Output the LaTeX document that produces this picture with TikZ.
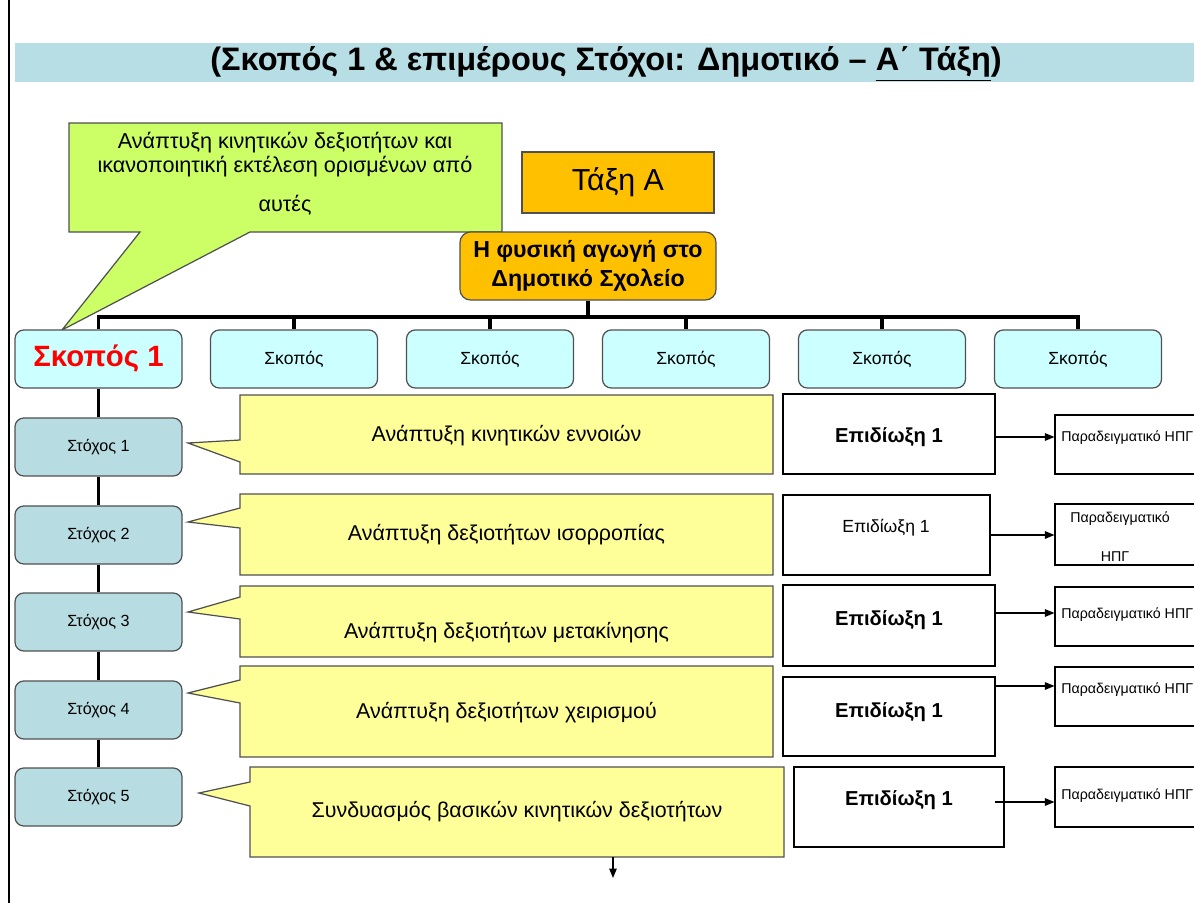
\documentclass[tikz,border=0pt]{standalone}
\usepackage{fontspec}
\setmainfont{Liberation Sans}
\usetikzlibrary{arrows.meta}
\definecolor{titlebg}{RGB}{183,222,228}
\definecolor{lime}{RGB}{204,255,102}
\definecolor{gold}{RGB}{255,192,0}
\definecolor{skopos}{RGB}{204,255,255}
\definecolor{stoxos}{RGB}{183,221,227}
\definecolor{yel}{RGB}{255,255,153}
\definecolor{edge}{RGB}{80,80,80}
\begin{document}
\begin{tikzpicture}[x=0.02cm,y=-0.02cm,
  sz/.style 2 args={minimum width=#1*0.02cm,minimum height=#2*0.02cm,inner sep=0pt},
  goldbox/.style={draw=edge,fill=gold,line width=0.7pt},
  skbox/.style={draw=edge,fill=skopos,rounded corners=5pt,line width=0.7pt,font=\fontsize{10}{12}\selectfont},
  stbox/.style={draw=edge,fill=stoxos,rounded corners=5pt,line width=0.7pt,font=\fontsize{9.2}{11}\selectfont},
  ycall/.style={draw=edge,fill=yel,line width=0.7pt},
  ytext/.style={font=\fontsize{12.2}{14}\selectfont},
  epbox/.style={draw=black,fill=white,line width=0.7pt},
  eptext/.style={font=\bfseries\fontsize{11.5}{14}\selectfont},
  rbox/.style={draw=black,fill=white,line width=0.6pt},
  rtext/.style={font=\fontsize{8.1}{10}\selectfont,inner sep=0pt},
  bus/.style={line width=2.2pt,black},
  arr/.style={line width=0.7pt,-{Triangle[length=0.19cm,width=0.15cm]}}
]
\useasboundingbox (0,0) rectangle (1194,903);
% left rule
\draw[line width=0.9pt] (9,0) -- (9,903);
% title bar
\node[sz={1181}{39},fill=titlebg] (title) at (605.5,62.5) {};
\node[inner sep=0pt,font=\bfseries\fontsize{18.5}{22}\selectfont] (titlet) at (606,64)
  {(Σκοπός 1 \& επιμέρους Στόχοι: Δημοτικό – \underline{Α΄ Τάξη})};
% green callout
\path[draw=edge,fill=lime,line width=0.7pt] (69,123) -- (502,123) -- (502,232) -- (250,232) -- (62,330) -- (140,232) -- (69,232) -- cycle;
\node[align=center,font=\fontsize{12.3}{13.4}\selectfont] (goal) at (285,174)
  {Ανάπτυξη κινητικών δεξιοτήτων και\\ικανοποιητική εκτέλεση ορισμένων από\\[9pt]αυτές};
% Taxi A
\node[goldbox,sz={192}{61},font=\fontsize{17.3}{20}\selectfont] (taxi) at (618,182.5) {Τάξη Α};
\node[goldbox,sz={256}{68},rounded corners=6pt,align=center,font=\bfseries\fontsize{13.2}{16.5}\selectfont] (phys) at (588,266)
  {Η φυσική αγωγή στο\\Δημοτικό Σχολείο};
% skopos boxes
\node[skbox,sz={167}{58},text=red,font=\bfseries\fontsize{16.7}{19}\selectfont] (S1) at (98.5,359) {Σκοπός 1};
\foreach \i/\xx in {2/294,3/490,4/686,5/882,6/1078}{
  \node[skbox,sz={167}{58}] (S\i) at (\xx,359) {Σκοπός};
}
% bus
\coordinate (busy) at (0,317);
\draw[bus] (phys.south) -- (phys.south |- busy);
\draw[bus,line cap=rect] (S1.north |- busy) -- (S6.north |- busy);
\foreach \i in {1,...,6}{\draw[bus] (S\i.north |- busy) -- (S\i.north);}
% stoxos boxes
\foreach \i/\yy in {1/447,2/535,3/622,4/710,5/797}{
  \node[stbox,sz={167}{58}] (T\i) at (98.5,\yy) {Στόχος \i};
}
\draw[bus] (S1.south) -- (T1.north);
\draw[bus] (T1.south) -- (T2.north);
\draw[bus] (T2.south) -- (T3.north);
\draw[bus] (T3.south) -- (T4.north);
\draw[bus] (T4.south) -- (T5.north);
% yellow callouts
\path[ycall] (240,395) -- (773,395) -- (773,474) -- (240,474) -- (240,462) -- (188,443) -- (240,440) -- cycle;
\node[ytext] (Y1) at (506.5,436) {Ανάπτυξη κινητικών εννοιών};
\path[ycall] (240,494) -- (773,494) -- (773,575) -- (240,575) -- (240,528) -- (188,522) -- (240,508) -- cycle;
\node[ytext] (Y2) at (506.5,535) {Ανάπτυξη δεξιοτήτων ισορροπίας};
\path[ycall] (240,586) -- (773,586) -- (773,657) -- (240,657) -- (240,619) -- (188,612) -- (240,597) -- cycle;
\node[ytext] (Y3) at (506.5,633) {Ανάπτυξη δεξιοτήτων μετακίνησης};
\path[ycall] (240,666) -- (773,666) -- (773,757) -- (240,757) -- (240,703) -- (188,693) -- (240,680) -- cycle;
\node[ytext] (Y4) at (506.5,713) {Ανάπτυξη δεξιοτήτων χειρισμού};
\path[ycall] (250,767) -- (784,767) -- (784,857) -- (250,857) -- (250,806) -- (199,793) -- (250,782) -- cycle;
\node[ytext] (Y5) at (517,812) {Συνδυασμός βασικών κινητικών δεξιοτήτων};
\coordinate (Y5b) at (613,857);
\draw[arr] (Y5b) -- ++(0,21);
% epidioksi boxes
\node[epbox,sz={212}{80}] (E1) at (889,434) {};
\node[eptext] (E1t) at (889,437) {Επιδίωξη 1};
\node[epbox,sz={207}{80}] (E2) at (886.5,535) {};
\node[font=\fontsize{10}{12}\selectfont] (E2t) at (886,528) {Επιδίωξη 1};
\node[epbox,sz={212}{81}] (E3) at (889,625.5) {};
\node[eptext] (E3t) at (889,620) {Επιδίωξη 1};
\node[epbox,sz={212}{79}] (E4) at (889,716.5) {};
\node[eptext] (E4t) at (889,712) {Επιδίωξη 1};
\node[epbox,sz={210}{80}] (E5) at (899,807) {};
\node[eptext] (E5t) at (899,800) {Επιδίωξη 1};
% right boxes
\node[rbox,sz={150}{59}] (R1) at (1130,444.5) {};
\node[rtext,anchor=west] (R1t) at (1061,438) {Παραδειγματικό ΗΠΓ};
\node[rbox,sz={150}{61}] (R2) at (1130,534.5) {};
\node[rtext,anchor=west] (R2t) at (1070,519) {Παραδειγματικό};
\node[rtext] (R2u) at (1115,557) {ΗΠΓ};
\node[rbox,sz={150}{59}] (R3) at (1130,616.5) {};
\node[rtext,anchor=west] (R3t) at (1061,615) {Παραδειγματικό ΗΠΓ};
\node[rbox,sz={150}{59}] (R4) at (1130,696.5) {};
\node[rtext,anchor=west] (R4t) at (1061,690) {Παραδειγματικό ΗΠΓ};
\node[rbox,sz={150}{60}] (R5) at (1130,797) {};
\node[rtext,anchor=west] (R5t) at (1061,796) {Παραδειγματικό ΗΠΓ};
% arrows
\draw[arr] ([yshift=-0.06cm]E1.east) coordinate (a1) -- (R1.west |- a1);
\draw[arr] (E2.east) -- (R2.west |- E2.east);
\draw[arr] ([yshift=0.25cm]E3.east) coordinate (a3) -- (R3.west |- a3);
\draw[arr] ([yshift=0.61cm]E4.east) coordinate (a4) -- (R4.west |- a4);
\draw[arr] ([xshift=-0.2cm,yshift=0.1cm]E5.east) coordinate (a5) -- (R5.west |- a5);
\end{tikzpicture}
\end{document}
